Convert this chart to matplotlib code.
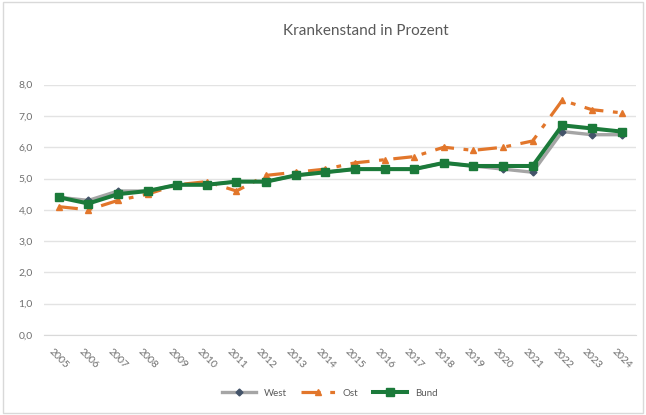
import matplotlib.pyplot as plt
from matplotlib.patches import Rectangle

plt.rcParams['font.family'] = ['Lato', 'DejaVu Sans']

years = [str(y) for y in range(2005, 2025)]
west = [4.4, 4.3, 4.6, 4.6, 4.8, 4.8, 4.9, 4.9, 5.1, 5.2,
        5.3, 5.3, 5.3, 5.5, 5.4, 5.3, 5.2, 6.5, 6.4, 6.4]
ost = [4.1, 4.0, 4.3, 4.5, 4.8, 4.9, 4.6, 5.1, 5.2, 5.3,
       5.5, 5.6, 5.7, 6.0, 5.9, 6.0, 6.2, 7.5, 7.2, 7.1]
bund = [4.4, 4.2, 4.5, 4.6, 4.8, 4.8, 4.9, 4.9, 5.1, 5.2,
        5.3, 5.3, 5.3, 5.5, 5.4, 5.4, 5.4, 6.7, 6.6, 6.5]
yticks = [0, 1, 2, 3, 4, 5, 6, 7, 8]

fig = plt.figure(figsize=(6.46, 4.15), dpi=100)
ax = fig.add_axes([0.068, 0.193, 0.917, 0.603])

x = range(len(years))
ax.plot(x, west, color='#a5a5a5', lw=2.4, marker='D', ms=3.5,
        markerfacecolor='#44546a', markeredgecolor='#44546a', label='West', zorder=3)
ax.plot(x, ost, color='#e2762b', lw=2.3, ls=(0, (6, 3, 1.5, 3)), marker='^', ms=5,
        markerfacecolor='#e2762b', markeredgecolor='#e2762b', label='Ost', zorder=2)
ax.plot(x, bund, color='#1b7a3a', lw=2.9, marker='s', ms=6,
        markerfacecolor='#1b7a3a', markeredgecolor='#1b7a3a', label='Bund', zorder=4)

ax.set_ylim(0, 8)
ax.set_xlim(-0.5, len(years) - 0.5)
ax.set_yticks(yticks)
ax.set_yticklabels([f"{v:.1f}".replace('.', ',') for v in yticks])
ax.set_xticks(list(x))
ax.set_xticklabels(years, rotation=-45, ha='center')
ax.tick_params(axis='both', length=0, labelsize=7.5, labelcolor='#6f6f6f')
ax.tick_params(axis='x', pad=9)
ax.tick_params(axis='y', pad=8)
ax.yaxis.grid(True, color='#e3e3e3', lw=1)
ax.set_axisbelow(True)
for s in ['top', 'right', 'left']:
    ax.spines[s].set_visible(False)
ax.spines['bottom'].set_color('#d9d9d9')

fig.text(0.567, 0.925, 'Krankenstand in Prozent', ha='center', va='center',
         fontsize=11, color='#595959')
fig.legend(loc='center', bbox_to_anchor=(0.51, 0.053), ncol=3, frameon=False,
           fontsize=7, labelcolor='#595959', handlelength=3.5, columnspacing=1.5)

fig.patches.append(Rectangle((0.005, 0.005), 0.99, 0.99, transform=fig.transFigure,
                             fill=False, edgecolor='#d9d9d9', lw=1))

fig.savefig('out.png', dpi=100)
